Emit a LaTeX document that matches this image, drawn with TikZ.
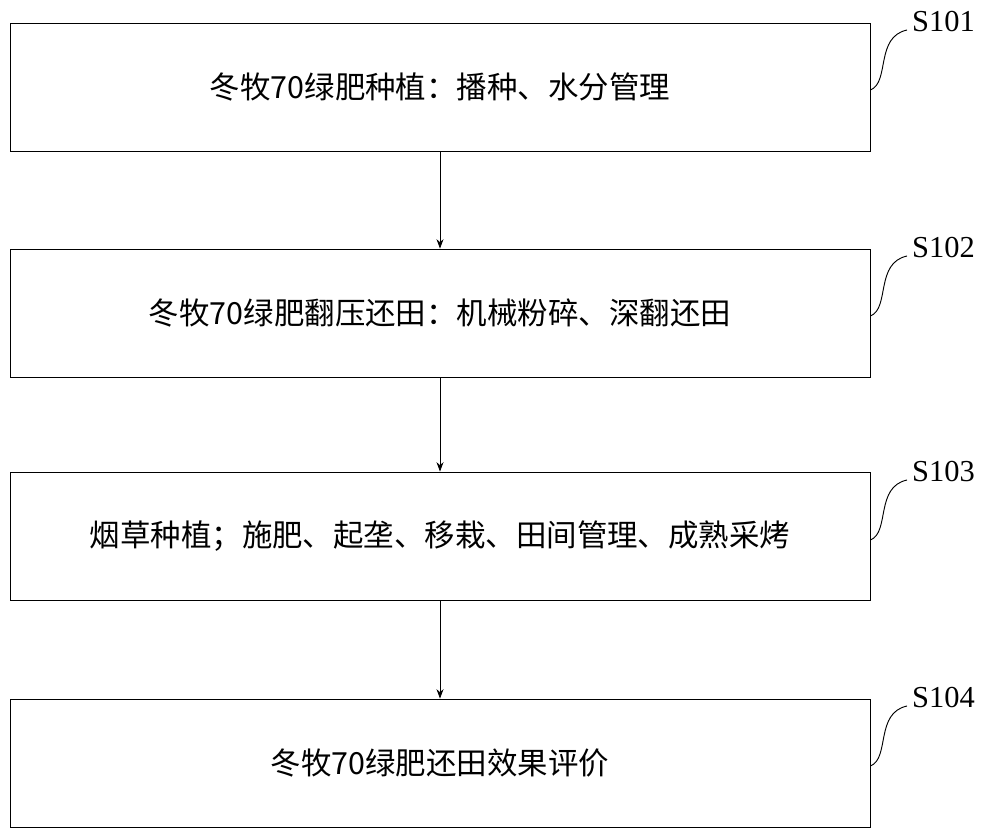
\documentclass[tikz,border=0pt]{standalone}
\usepackage{fontspec}
\usetikzlibrary{arrows.meta}
\setmainfont{Liberation Serif}
\newfontfamily\cjk{Noto Sans CJK SC}
\begin{document}
\begin{tikzpicture}[x=0.03cm,y=-0.03cm,
  box/.style={draw,line width=0.8pt,minimum width=860*0.03cm,minimum height=128*0.03cm,inner sep=0pt,font=\cjk\fontsize{26}{30}\selectfont},
  arr/.style={->,>={Stealth[length=8pt,width=6pt]},line width=0.6pt},
  lab/.style={font=\fontsize{26}{30}\selectfont,anchor=west,inner sep=0pt},
  crv/.style={line width=0.8pt}]
\useasboundingbox (0,0) rectangle (1000,834);
\node[box] (b1) at (440,87) {冬牧70绿肥种植：播种、水分管理};
\node[box] (b2) at (440,313) {冬牧70绿肥翻压还田：机械粉碎、深翻还田};
\node[box] (b3) at (440,536) {烟草种植；施肥、起垄、移栽、田间管理、成熟采烤};
\node[box] (b4) at (440,763) {冬牧70绿肥还田效果评价};
\draw[arr] (b1) -- (b2);
\draw[arr] (b2) -- (b3);
\draw[arr] (b3) -- (b4);
\foreach \b/\t/\y in {b1/S101/22,b2/S102/248,b3/S103/472,b4/S104/698}{
  \node[lab] (l\b) at (912,\y) {\t};
  \coordinate (c\b) at (907,\y+8);
  \draw[crv] (\b.east|-0,\y+68) .. controls (890,\y+60) and (875,\y+15) .. (c\b);
}
\end{tikzpicture}
\end{document}
